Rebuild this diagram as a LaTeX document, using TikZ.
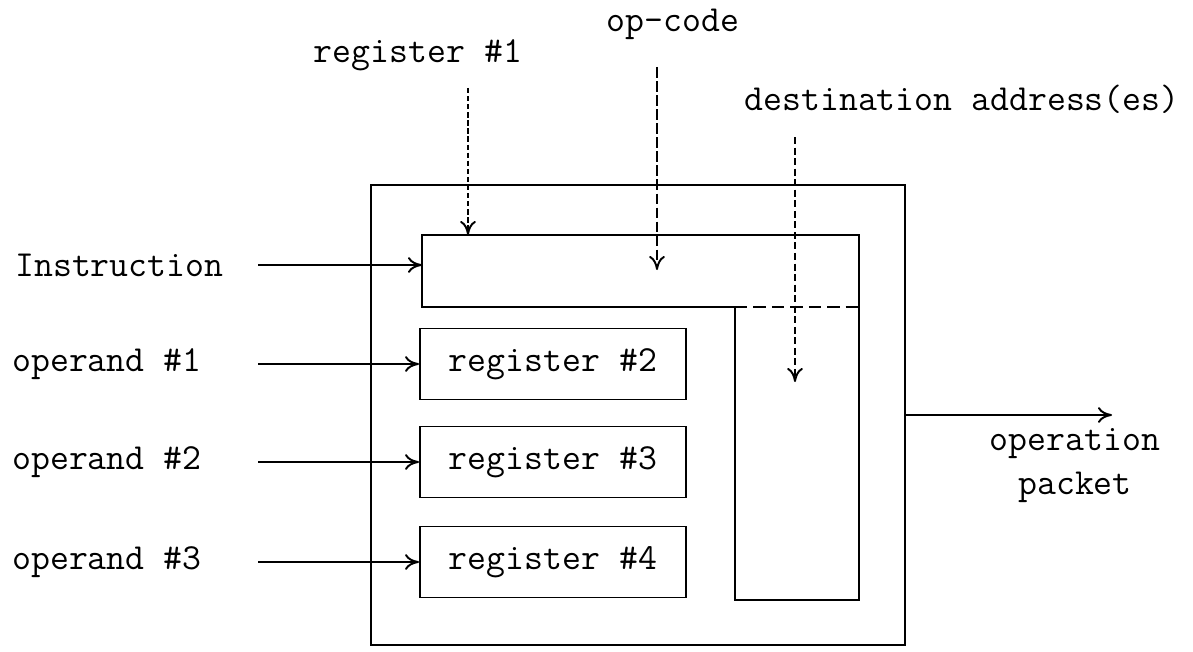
\documentclass[tikz,border=0pt]{standalone}
\usetikzlibrary{arrows.meta,positioning}
\newcommand{\lblfont}{\ttfamily\fontsize{20.9}{25}\selectfont}
\tikzset{
  wire/.style={line width=1.1pt},
  regbox/.style={wire,draw,minimum width=5.32cm,minimum height=1.42cm,inner sep=0pt,font=\lblfont},
  lbl/.style={font=\lblfont,inner sep=0pt},
  feed/.style={wire,-{To[length=8pt,width=9pt]}},
  ctrl/.style={feed,dash pattern=on 4pt off 2pt},
}

\begin{document}
\begin{tikzpicture}[x=0.02cm,y=-0.02cm]
  \useasboundingbox (0,0) rectangle (1193,652);
  % Outer unit
  \node[wire,draw,minimum width=10.68cm,minimum height=9.2cm] (unit) at (638,415) {};
  % Instruction register (L-shaped)
  \coordinate (irtl) at (422,235);
  \coordinate (irtr) at (859,235);
  \coordinate (irbr) at (859,600);
  \coordinate (irbl) at (735,600);
  \coordinate (irk) at (735,307);
  \coordinate (irl) at (422,307);
  \draw[wire] (irtl) -- (irtr) -- (irbr) -- (irbl) -- (irk) -- (irl) -- cycle;
  \draw[wire,dash pattern=on 7pt off 3.5pt] (irk) -- (irk -| irtr);
  % Operand registers
  \foreach \i/\y in {2/364,3/462,4/562}
    \node[regbox] (reg\i) at (553,\y) {register \#\i};
  % Inputs on the left
  \coordinate (src) at (258,0);
  \node[lbl,anchor=west] (insn) at (15,265) {Instruction};
  \draw[feed] (insn.east -| src) -- (insn.east -| irtl);
  \foreach \i/\j in {1/2,2/3,3/4} {
    \node[lbl,anchor=west] (op\i) at (12,0 |- reg\j) {operand \#\i};
    \draw[feed] (op\i.east -| src) -- (reg\j.west);
  }
  % Control fields from the top
  \node[lbl] (r1) at (418,55) {register \#1};
  \node[lbl] (opc) at (673,24) {op-code};
  \node[lbl] (dst) at (962,99) {destination address(es)};
  \coordinate (r1top) at (468,88);
  \coordinate (opctop) at (657,67);
  \coordinate (opcend) at (657,270);
  \coordinate (dsttop) at (795,137);
  \coordinate (dstend) at (795,382);
  \draw[feed,dash pattern=on 3pt off 1.6pt] (r1top) -- (r1top |- irtl);
  \draw[ctrl,dash pattern=on 6pt off 2pt] (opctop) -- (opcend);
  \draw[ctrl] (dsttop) -- (dstend);
  % Output
  \coordinate (outend) at (1112,415);
  \draw[feed] (unit.east) -- (outend);
  \node[lbl,align=center,anchor=north] (pkt) at (1075,428) {operation\\packet};
\end{tikzpicture}
\end{document}
